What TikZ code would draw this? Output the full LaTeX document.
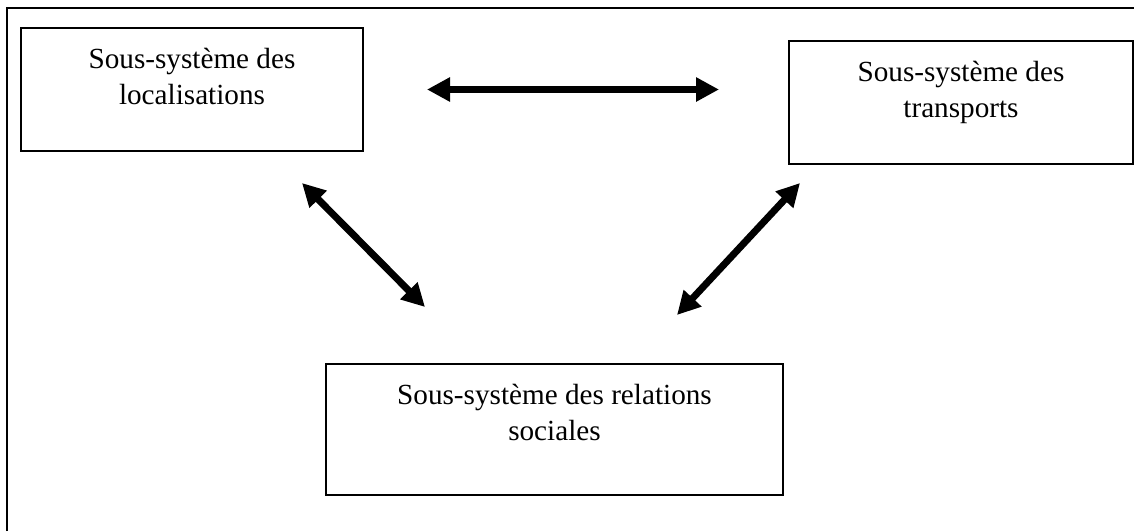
\documentclass[tikz,border=0pt]{standalone}
\usepackage{fontspec}
\setmainfont{Liberation Serif}
\usetikzlibrary{arrows.meta}

\begin{document}
\begin{tikzpicture}[
    x=0.5pt, y=-0.5pt,
    subsys/.style={rectangle, draw, line width=1pt, inner sep=0pt, anchor=north west, font=\fontsize{14.6pt}{18pt}\selectfont},
    arrow/.style={{Triangle[length=11.5pt, width=11.5pt]}-{Triangle[length=11.5pt, width=11.5pt]}, line width=3.5pt}
]
\useasboundingbox (0,0) rectangle (1134,531);

% outer frame
\draw[line width=1pt] (7,531) -- (7,8) -- (1134,8);

\node[subsys] (loc) at (20,27) {\parbox[c][61.5pt][t]{171pt}{\centering\vspace*{10.3pt}Sous-système des\\localisations}};
\node[subsys] (trans) at (788,40) {\parbox[c][61.5pt][t]{172pt}{\centering\vspace*{10.3pt}Sous-système des\\transports}};
\node[subsys] (social) at (325,363) {\parbox[c][65.5pt][t]{228.5pt}{\centering\vspace*{10.3pt}Sous-système des relations\\sociales}};

% arrow ends
\coordinate (hleft) at (427,89.5);
\coordinate (hright) at (719,89.5);
\coordinate (ltop) at (302,183);
\coordinate (lbottom) at (425,307);
\coordinate (rtop) at (800,183);
\coordinate (rbottom) at (677,315);

\draw[arrow] (hleft) -- (hright);
\draw[arrow] (ltop) -- (lbottom);
\draw[arrow] (rtop) -- (rbottom);

\end{tikzpicture}
\end{document}
